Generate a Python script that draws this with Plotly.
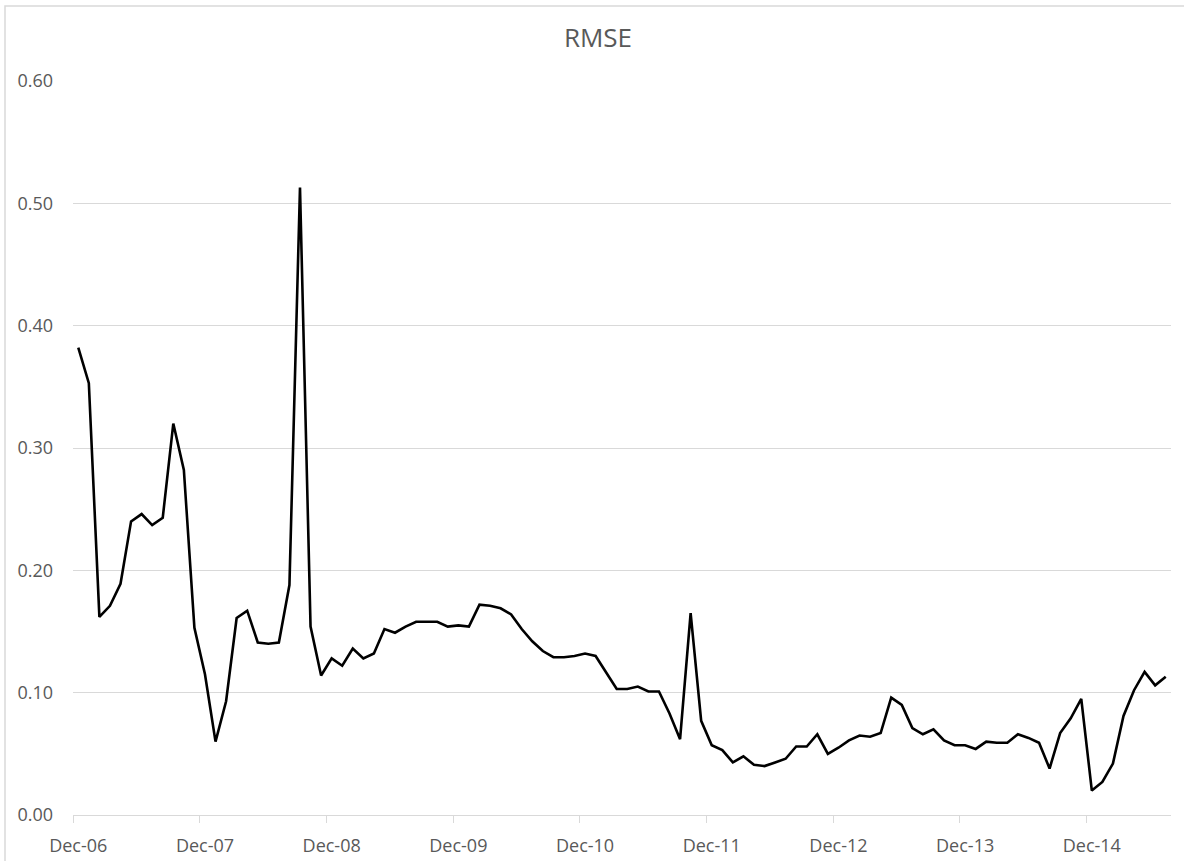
import plotly.graph_objects as go

# Monthly categories Dec-06 .. Jul-15
month_names = ["Jan", "Feb", "Mar", "Apr", "May", "Jun",
               "Jul", "Aug", "Sep", "Oct", "Nov", "Dec"]
months = ["Dec-06"] + [f"{m}-{y:02d}" for y in range(7, 16) for m in month_names][:103]

rmse = [
    0.382, 0.353, 0.162, 0.171, 0.189, 0.240, 0.246, 0.237, 0.243, 0.320, 0.282, 0.153,
    0.115, 0.060, 0.093, 0.161, 0.167, 0.141, 0.140, 0.141, 0.188, 0.513, 0.154, 0.114,
    0.128, 0.122, 0.136, 0.128, 0.132, 0.152, 0.149, 0.154, 0.158, 0.158, 0.158, 0.154,
    0.155, 0.154, 0.172, 0.171, 0.169, 0.164, 0.152, 0.142, 0.134, 0.129, 0.129, 0.130,
    0.132, 0.130, 0.117, 0.103, 0.103, 0.105, 0.101, 0.101, 0.083, 0.062, 0.165, 0.077,
    0.057, 0.053, 0.043, 0.048, 0.041, 0.040, 0.043, 0.046, 0.056, 0.056, 0.066, 0.050,
    0.055, 0.061, 0.065, 0.064, 0.067, 0.096, 0.090, 0.071, 0.066, 0.070, 0.061, 0.057,
    0.057, 0.054, 0.060, 0.059, 0.059, 0.066, 0.063, 0.059, 0.038, 0.067, 0.079, 0.095,
    0.020, 0.027, 0.042, 0.081, 0.102, 0.117, 0.106, 0.113,
]

x_idx = list(range(len(rmse)))
label_idx = [i for i, m in enumerate(months) if m.startswith("Dec")]
label_text = [months[i] for i in label_idx]

grey_txt = "#595959"
grid = "#d9d9d9"
font_family = "Open Sans, Calibri, sans-serif"

fig = go.Figure()
fig.add_trace(go.Scatter(
    x=x_idx, y=rmse, mode="lines",
    line=dict(color="#000000", width=2.6),
    customdata=months,
    hovertemplate="%{customdata}: %{y:.3f}<extra></extra>",
    showlegend=False,
))

W, H = 1184, 861
L, R, T, B = 73, 13, 81, 46
pw, ph = W - L - R, H - T - B

# chart-area border (Excel style); right and bottom edges fall outside the view
bx0 = (5 - L) / pw
bx1 = (W + 40 - L) / pw
by1 = (H - B - 6) / ph
by0 = -0.25
fig.add_shape(type="rect", xref="paper", yref="paper",
              x0=bx0, x1=bx1, y0=by0, y1=by1,
              line=dict(color=grid, width=1.5), layer="below")

fig.update_layout(
    width=W, height=H,
    margin=dict(l=L, r=R, t=T, b=B, autoexpand=False),
    paper_bgcolor="white", plot_bgcolor="white",
    font=dict(family=font_family, color=grey_txt, size=18),
    title=dict(text="RMSE", x=598 / W, xref="container", xanchor="center",
               y=1 - 38 / H, yref="container", yanchor="middle",
               font=dict(size=26, color=grey_txt, family=font_family)),
    xaxis=dict(
        range=[-0.5, len(rmse) - 0.5],
        tickmode="array", tickvals=label_idx, ticktext=label_text,
        ticks="", showgrid=False, zeroline=False,
        showline=True, linecolor=grid, linewidth=1,
        ticklabelstandoff=14, automargin=False,
        tickfont=dict(size=18, color=grey_txt),
        minor=dict(tickmode="linear", tick0=-0.5, dtick=12,
                   ticks="outside", ticklen=7, tickcolor=grid, tickwidth=1,
                   showgrid=False),
    ),
    yaxis=dict(
        range=[0, 0.6], dtick=0.1, tick0=0, tickformat=".2f",
        showgrid=True, gridcolor=grid, gridwidth=1,
        zeroline=False, showline=False, ticks="",
        ticklabelstandoff=19, automargin=False,
        tickfont=dict(size=18, color=grey_txt),
    ),
)

fig.write_html("out.html",
               config={"displayModeBar": False},
               post_script="document.body.style.margin='0';document.body.style.overflow='hidden';")
